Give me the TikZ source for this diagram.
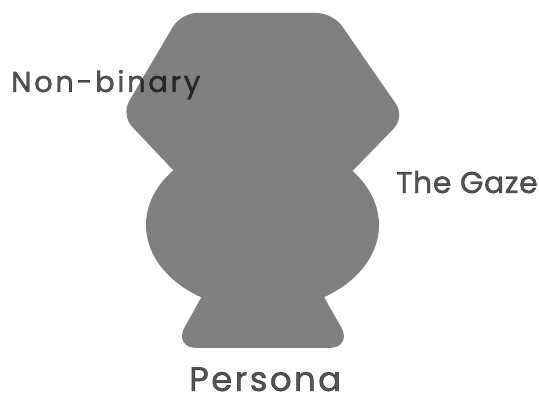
\documentclass[tikz,border=0pt]{standalone}
\usepackage{fontspec}
\setmainfont{Poppins}[FakeBold=1.2]
\usepackage{tikz}
\usetikzlibrary{positioning}
\definecolor{Body}{HTML}{808080}

\begin{document}
\begin{tikzpicture}[x=1pt,y=-1pt,
  blob/.style={fill=Body,draw=none},
  label/.style={inner sep=0pt,anchor=base west,text=black,text opacity=0.67}
]
\useasboundingbox (0,0) rectangle (539,398);
% head, bulb and foot
\fill[blob,rounded corners=16pt] (181,13) -- (333,13) -- (405,117) -- (300,225) -- (225,225) -- (121,115) -- cycle;
\fill[blob] (262.5,225) ellipse [x radius=116.5,y radius=85];
\fill[blob,rounded corners=24pt] (225,255) -- (300,255) -- (353,348) -- (173,348) -- cycle;
% labels
\node[label,font=\fontsize{29}{30}\selectfont\addfontfeatures{LetterSpace=9}] (nonbinary) at (11,92) {Non-binary};
\node[label,font=\fontsize{30}{31}\selectfont\addfontfeatures{LetterSpace=2}] (gaze) at (396,193) {The Gaze};
\node[label,font=\fontsize{34}{35}\selectfont\addfontfeatures{LetterSpace=7}] (persona) at (189,391) {Persona};
\end{tikzpicture}
\end{document}
